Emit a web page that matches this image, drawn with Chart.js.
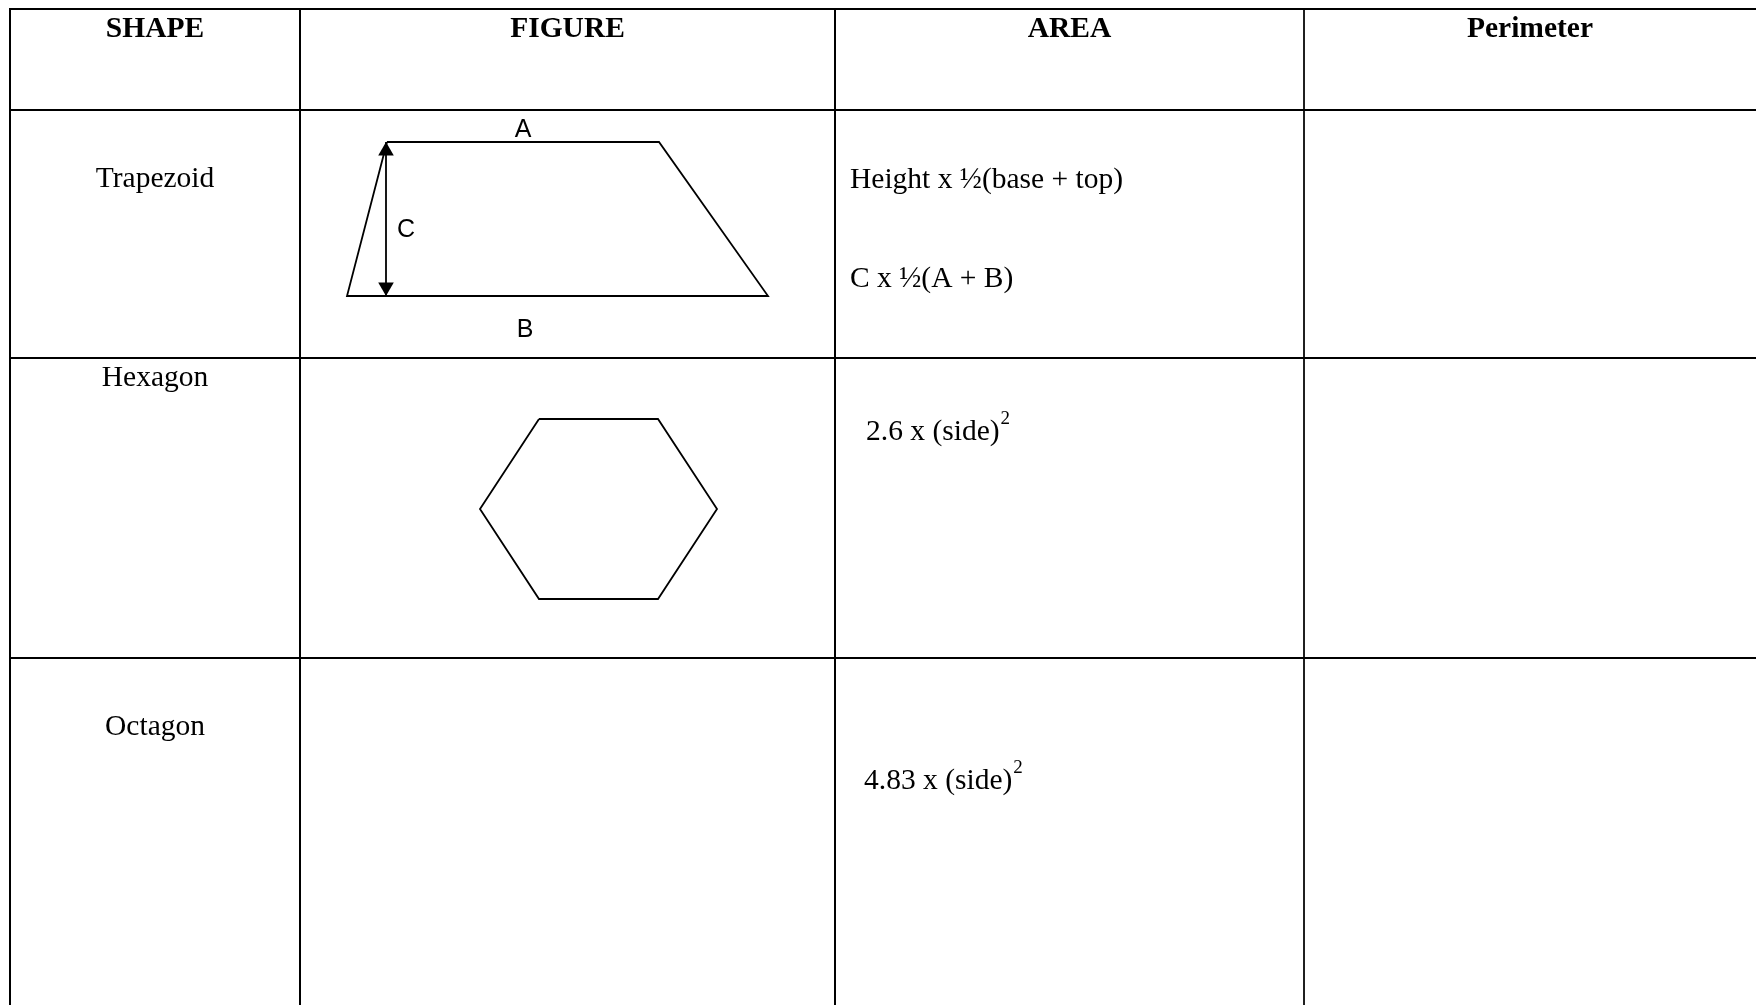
<!DOCTYPE html>
<html>
<head>
<meta charset="utf-8">
<script src="https://cdn.jsdelivr.net/npm/chart.js@4"></script>
<style>
  html, body { margin: 0; padding: 0; background: #fff; }
  #wrap { width: 1756px; height: 1005px; position: relative; }
</style>
</head>
<body>
<div id="wrap"><canvas id="tabela"></canvas></div>
<script>
// table contents
const cabecalhos = ['SHAPE', 'FIGURE', 'AREA', 'Perimeter']
const formas = ['Trapezoid', 'Hexagon', 'Octagon']
const formulas_trapezio = ['Height x ½(base + top)', 'C x ½(A + B)']
const formulas_lado = ['2.6 x (side)', '4.83 x (side)']
const expoente = '2'
const rotulos_trapezio = ['A', 'B', 'C']

// figure vertices (page units)
const trapezio_x = [387, 659, 768, 347, 387]
const trapezio_y = [142, 142, 296, 296, 142]
const seta_x = [386, 386]
const seta_y = [142, 296]
const hexagono_x = [539, 658, 717, 658, 539, 480, 539]
const hexagono_y = [419, 419, 509, 599, 599, 509, 419]

// table grid
const colunas = [10, 300, 835, 1304]
const colunas_largura = [2, 2, 2, 1]
const linhas = [9, 110, 358, 658]
const LARGURA = 1756, ALTURA = 1005

const serif = '"Liberation Serif", "Times New Roman", serif'
const sans = '"Liberation Sans", Arial, sans-serif'

const linha = (xs, ys, w) => ({
  data: xs.map((x, i) => ({x: x, y: ys[i]})),
  showLine: true, borderColor: '#000', borderWidth: w,
  pointRadius: 0, fill: false, tension: 0
})

const datasets = []
colunas.forEach((c, i) => datasets.push(linha([c, c], [linhas[0] - 1, ALTURA + 2], colunas_largura[i])))
linhas.forEach(l => datasets.push(linha([colunas[0] - 1, LARGURA + 2], [l, l], 2)))
datasets.push(linha(trapezio_x, trapezio_y, 1.8))
datasets.push(linha(seta_x, seta_y, 1.8))
datasets.push(linha(hexagono_x, hexagono_y, 1.8))
// arrow heads
const r_seta = 9
datasets.push({
  data: [{x: seta_x[0], y: seta_y[0] + r_seta}, {x: seta_x[1], y: seta_y[1] - r_seta}],
  showLine: false, pointStyle: 'triangle', pointRadius: r_seta,
  rotation: [0, 180], backgroundColor: '#000', borderColor: '#000', borderWidth: 0
})

const textos = {
  id: 'textos',
  afterDatasetsDraw(chart) {
    const ctx = chart.ctx
    const sx = chart.scales.x, sy = chart.scales.y
    const px = v => sx.getPixelForValue(v)
    const py = v => sy.getPixelForValue(v)
    const escrever = (t, x, y, fonte, alinhar) => {
      ctx.font = fonte
      ctx.textAlign = alinhar || 'left'
      ctx.fillText(t, px(x), py(y))
      return ctx.measureText(t).width
    }
    ctx.save()
    ctx.fillStyle = '#000'
    ctx.textBaseline = 'alphabetic'

    const centros = [(colunas[0] + colunas[1]) / 2, (colunas[1] + colunas[2]) / 2,
      (colunas[2] + colunas[3]) / 2, (colunas[3] + LARGURA) / 2]
    cabecalhos.forEach((h, i) => escrever(h, centros[i], 37, 'bold 29.5px ' + serif, 'center'))

    const base_formas = [187, 386, 735]
    formas.forEach((f, i) => escrever(f, centros[0], base_formas[i], '29.5px ' + serif, 'center'))

    escrever(formulas_trapezio[0], 850, 188, '29.5px ' + serif)
    escrever(formulas_trapezio[1], 850, 287, '29.5px ' + serif)

    const lado_x = [866, 864], lado_y = [440, 789]
    formulas_lado.forEach((f, i) => {
      const w = escrever(f, lado_x[i], lado_y[i], '29.5px ' + serif)
      escrever(expoente, lado_x[i] + w + 1, lado_y[i] - 16, '19px ' + serif)
    })

    escrever(rotulos_trapezio[0], 523, 137, '25px ' + sans, 'center')
    escrever(rotulos_trapezio[1], 525, 337, '25px ' + sans, 'center')
    escrever(rotulos_trapezio[2], 397, 237, '25px ' + sans)
    ctx.restore()
  }
}

new Chart(document.getElementById('tabela'), {
  type: 'scatter',
  data: { datasets: datasets },
  options: {
    responsive: true,
    maintainAspectRatio: false,
    animation: false,
    layout: { padding: 0, autoPadding: false },
    scales: {
      x: { type: 'linear', min: 0, max: LARGURA, display: false },
      y: { type: 'linear', min: 0, max: ALTURA, reverse: true, display: false }
    },
    plugins: { legend: { display: false }, tooltip: { enabled: false } },
    events: []
  },
  plugins: [textos]
})
</script>
</body>
</html>
